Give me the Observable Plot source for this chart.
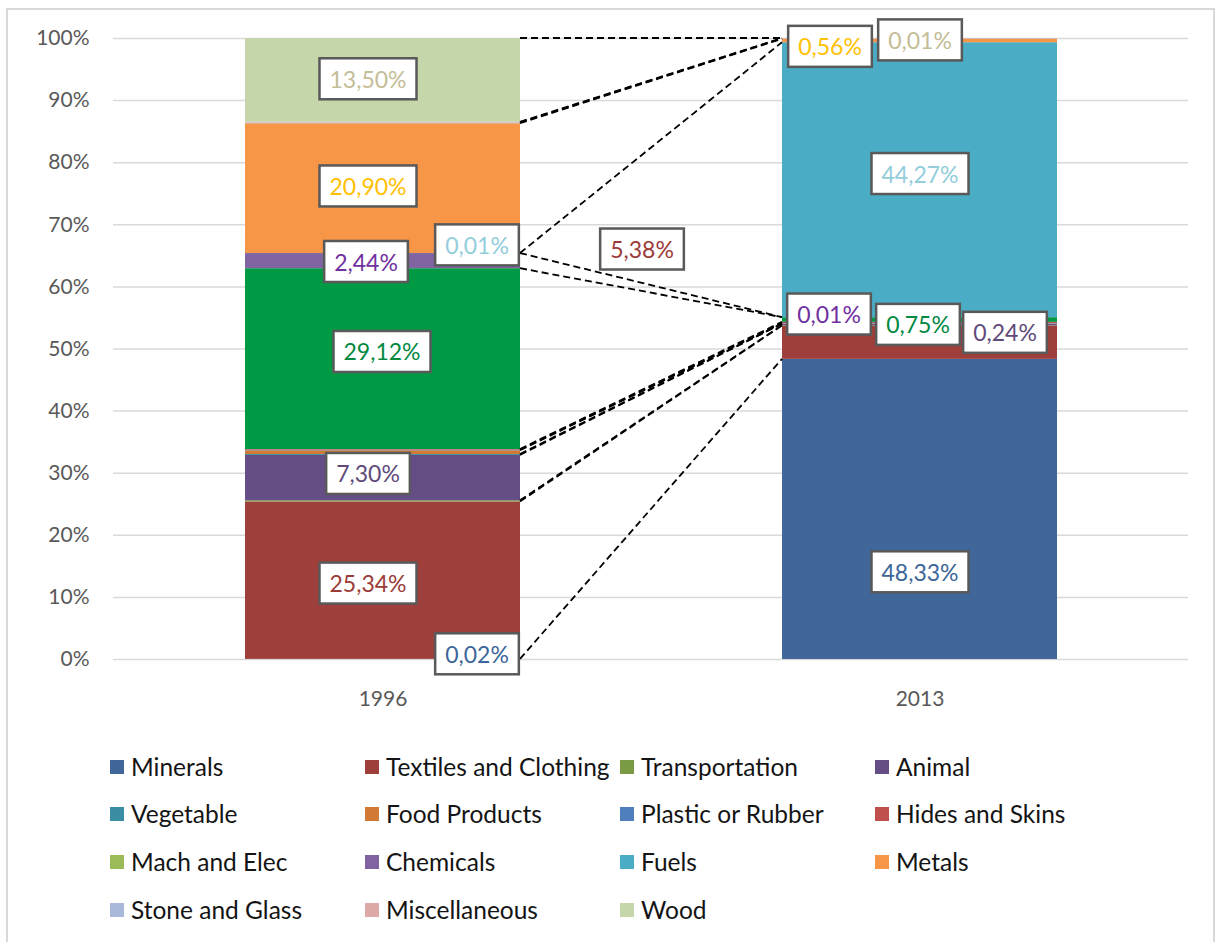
<!DOCTYPE html>
<html>
<head>
<meta charset="utf-8">
<script src="https://cdn.jsdelivr.net/npm/d3@7"></script>
<script src="https://cdn.jsdelivr.net/npm/@observablehq/plot@0.6"></script>
<style>
  html, body { margin: 0; padding: 0; background: #fff; }
  #frame { position: relative; width: 1217px; height: 942px; overflow: hidden; background: #fff; font-family: Lato, "Open Sans", sans-serif; }
  #border { position: absolute; left: 6px; top: 8px; width: 1209px; height: 940px; border: 2px solid #D9D9D9; box-sizing: border-box; }
  #chart { position: absolute; left: 0; top: 0; }
  .legend-item { position: absolute; display: flex; align-items: center; font-size: 24.5px; color: #141414; white-space: nowrap; line-height: 1; }
  .legend-item .sw { width: 14px; height: 14px; margin-right: 7px; flex: none; }
</style>
</head>
<body>
<div id="frame">
  <div id="border"></div>
  <div id="chart"></div>
  <div id="legend"></div>
</div>
<script>
// Product groups, in stacking order (bottom to top)
const years = ["1996", "2013"];
const categories = [
  "Minerals", "Textiles and Clothing", "Transportation", "Animal",
  "Vegetable", "Food Products", "Plastic or Rubber", "Hides and Skins",
  "Mach and Elec", "Chemicals", "Fuels", "Metals",
  "Stone and Glass", "Miscellaneous", "Wood"
];
// Share of exports (%) per product group
const share1996 = [0.02, 25.34, 0.20, 7.30, 0.15, 0.60, 0.10, 0.10, 29.12, 2.44, 0.01, 20.90, 0.12, 0.10, 13.50];
const share2013 = [48.33, 5.38, 0.04, 0.24, 0.03, 0.05, 0.04, 0.18, 0.75, 0.01, 44.27, 0.56, 0.06, 0.05, 0.01];
// Y axis ticks
const yTicks = [0, 10, 20, 30, 40, 50, 60, 70, 80, 90, 100];
// Segments that carry a value label
const labeled1996 = ["Minerals", "Textiles and Clothing", "Animal", "Mach and Elec", "Chemicals", "Fuels", "Metals", "Wood"];
const labeled2013 = ["Minerals", "Textiles and Clothing", "Animal", "Mach and Elec", "Chemicals", "Fuels", "Metals", "Wood"];

// ---- styling ----
const legendPalette = {
  "Minerals": "#41679A", "Textiles and Clothing": "#9E3F3C", "Transportation": "#7B9A44", "Animal": "#654D85",
  "Vegetable": "#3A8DA3", "Food Products": "#D07A35", "Plastic or Rubber": "#4F7FBC", "Hides and Skins": "#C0504D",
  "Mach and Elec": "#9BBB59", "Chemicals": "#8064A2", "Fuels": "#4BACC6", "Metals": "#F79646",
  "Stone and Glass": "#A9B9D9", "Miscellaneous": "#DDA9A8", "Wood": "#C6D6AB"
};
const barPalette = Object.assign({}, legendPalette, {"Mach and Elec": "#009A44"});
const labelInk = {
  "Minerals": "#3C6699", "Textiles and Clothing": "#9B3B38", "Animal": "#604A7B", "Mach and Elec": "#00893F",
  "Chemicals": "#7030A0", "Fuels": "#92CDDC", "Metals": "#FFC000", "Wood": "#C4BD97"
};
// Hand-placed label offsets (px) from each segment's centre
const labelNudge = {
  "1996|Wood": [-15, 0], "1996|Metals": [-15, -1], "1996|Chemicals": [-17, 2], "1996|Fuels": [94, -7],
  "1996|Mach and Elec": [-1, -6], "1996|Animal": [-15, -3], "1996|Textiles and Clothing": [-15, 4], "1996|Minerals": [94, -4],
  "2013|Minerals": [0, 64], "2013|Textiles and Clothing": [-278, -92], "2013|Animal": [85, 9], "2013|Mach and Elec": [-2, 6],
  "2013|Chemicals": [-91, -2], "2013|Fuels": [0, -5], "2013|Metals": [-90, 7], "2013|Wood": [0, 3]
};

// ---- derived stack bounds ----
const sharesByYear = {"1996": share1996, "2013": share2013};
const rows = [];
for (const year of years) {
  let acc = 0;
  sharesByYear[year].forEach((v, i) => {
    rows.push({year, category: categories[i], value: v, lo: acc, hi: acc + v});
    acc += v;
  });
}
const rowOf = (year, cat) => rows.find(r => r.year === year && r.category === cat);
const fmt = v => d3.format(".2f")(v).replace(".", ",") + "%";

// Dashed series lines joining each segment's top across the two columns
function seriesLines(index, scales) {
  const x = scales.x, y = scales.y;
  const bw = typeof x.bandwidth === "function" ? x.bandwidth() : x.bandwidth;
  const g = d3.create("svg:g")
    .attr("fill", "none").attr("stroke", "#000")
    .attr("stroke-width", 1.8).attr("stroke-dasharray", "7,4");
  for (const cat of categories) {
    const a = rowOf(years[0], cat), b = rowOf(years[1], cat);
    g.append("line")
      .attr("x1", x(years[0]) + bw).attr("y1", y(a.hi))
      .attr("x2", x(years[1])).attr("y2", y(b.hi));
  }
  return g.node();
}

const labelMarks = [];
for (const [year, list] of [["1996", labeled1996], ["2013", labeled2013]]) {
  for (const cat of list) {
    const r = rowOf(year, cat);
    const [dx, dy] = labelNudge[year + "|" + cat] || [0, 0];
    labelMarks.push(Plot.text([r], {
      x: "year", y: d => (d.lo + d.hi) / 2, text: d => fmt(d.value),
      fill: labelInk[cat], fontSize: 23, dx, dy
    }));
  }
}

const chart = Plot.plot({
  width: 1217, height: 740,
  marginLeft: 113, marginRight: 29, marginTop: 38, marginBottom: 81,
  style: {fontFamily: "Lato, 'Open Sans', sans-serif", background: "transparent", overflow: "visible"},
  x: {domain: years, paddingInner: 0.488, paddingOuter: 0.244, label: null},
  y: {domain: [0, 100], label: null},
  color: {type: "identity"},
  marks: [
    Plot.gridY(yTicks, {stroke: "#D9D9D9", strokeOpacity: 1, strokeWidth: 1.5}),
    Plot.axisY(yTicks, {tickSize: 0, tickPadding: 24, tickFormat: d => d + "%", fontSize: 21, fill: "#595959", label: null}),
    Plot.axisX({tickSize: 0, tickPadding: 32, fontSize: 21, fill: "#595959", label: null}),
    Plot.barY(rows, {x: "year", y1: "lo", y2: "hi", fill: d => barPalette[d.category]}),
    seriesLines,
    ...labelMarks
  ]
});
document.getElementById("chart").appendChild(chart);

// Framed white boxes behind the value labels
d3.select(chart).selectAll('g[aria-label="text"] text').each(function() {
  const bb = this.getBBox();
  const padX = 10, h = 41;
  const rect = document.createElementNS("http://www.w3.org/2000/svg", "rect");
  rect.setAttribute("x", bb.x - padX);
  rect.setAttribute("y", bb.y + bb.height / 2 - h / 2);
  rect.setAttribute("width", bb.width + 2 * padX);
  rect.setAttribute("height", h);
  rect.setAttribute("fill", "#fff");
  rect.setAttribute("stroke", "#595959");
  rect.setAttribute("stroke-width", 2.5);
  const t = this.getAttribute("transform");
  if (t) rect.setAttribute("transform", t);
  this.parentNode.insertBefore(rect, this);
});

// Legend: four columns under the plot
const legend = document.getElementById("legend");
const colX = [110, 365, 620, 875];
const rowY = [767, 814, 862, 910];
categories.forEach((cat, i) => {
  const item = document.createElement("div");
  item.className = "legend-item";
  item.style.left = colX[i % 4] + "px";
  item.style.top = (rowY[Math.floor(i / 4)] - 14) + "px";
  item.style.height = "28px";
  const sw = document.createElement("span");
  sw.className = "sw";
  sw.style.background = legendPalette[cat];
  const tx = document.createElement("span");
  tx.textContent = cat;
  item.appendChild(sw);
  item.appendChild(tx);
  legend.appendChild(item);
});
</script>
</body>
</html>
